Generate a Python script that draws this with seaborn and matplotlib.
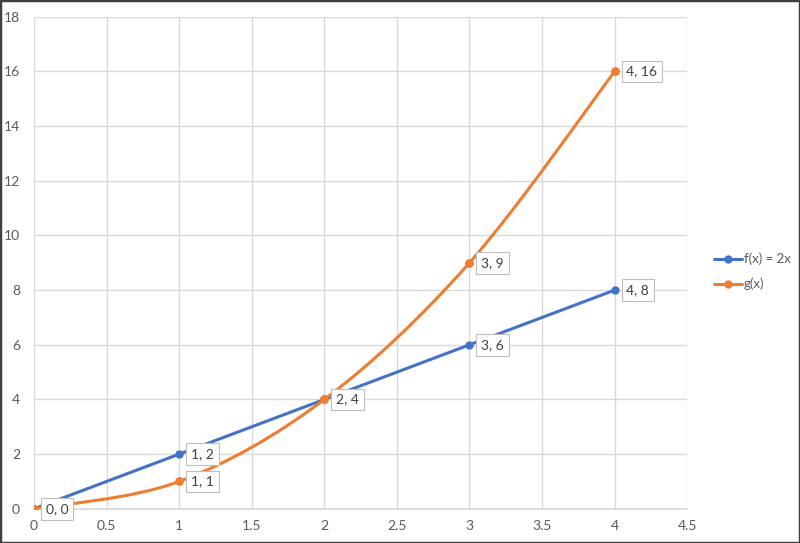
import matplotlib
matplotlib.use("Agg")
import matplotlib.pyplot as plt
from matplotlib.path import Path
from matplotlib.patches import PathPatch, Rectangle
from matplotlib.lines import Line2D
import numpy as np
import pandas as pd
import seaborn as sns

x_vals = [0, 1, 2, 3, 4]
f_vals = [0, 2, 4, 6, 8]
g_vals = [0, 1, 4, 9, 16]
series_names = ["f(x) = 2x", "g(x)"]
x_ticks = [0, 0.5, 1, 1.5, 2, 2.5, 3, 3.5, 4, 4.5]
x_tick_labels = ["0", "0.5", "1", "1.5", "2", "2.5", "3", "3.5", "4", "4.5"]
y_ticks = [0, 2, 4, 6, 8, 10, 12, 14, 16, 18]

BLUE = "#4472C4"
ORANGE = "#ED7D31"
TXT = "#595959"

sns.set_theme(style="white")
plt.rcParams["font.family"] = ["Lato", "DejaVu Sans"]

fig = plt.figure(figsize=(8.0, 5.43), dpi=100)
ax = fig.add_axes([0.0425, 0.063, 0.859 - 0.0425, 0.969 - 0.063])

df_f = pd.DataFrame({"x": x_vals, "y": f_vals})
df_g = pd.DataFrame({"x": x_vals, "y": g_vals})

sns.lineplot(data=df_f, x="x", y="y", ax=ax, color=BLUE, lw=2.2, marker="o",
             markersize=6, markeredgewidth=0, zorder=3)

# smooth bezier (Excel-like) for g
px = np.array(x_vals, float)
py = np.array(g_vals, float)
verts = [(px[0], py[0])]
codes = [Path.MOVETO]
n = len(px)
for i in range(n - 1):
    p0 = np.array([px[max(i - 1, 0)], py[max(i - 1, 0)]])
    p1 = np.array([px[i], py[i]])
    p2 = np.array([px[i + 1], py[i + 1]])
    p3 = np.array([px[min(i + 2, n - 1)], py[min(i + 2, n - 1)]])
    c1 = p1 + (p2 - p0) / 6.0
    c2 = p2 - (p3 - p1) / 6.0
    verts += [tuple(c1), tuple(c2), tuple(p2)]
    codes += [Path.CURVE4] * 3
ax.add_patch(PathPatch(Path(verts, codes), facecolor="none", edgecolor=ORANGE,
                       lw=2.2, zorder=4, transform=ax.transData))
sns.scatterplot(data=df_g, x="x", y="y", ax=ax, color=ORANGE, s=40,
                linewidth=0, zorder=5)

ax.set_xlim(0, 4.5)
ax.set_ylim(0, 18)
ax.set_xticks(x_ticks)
ax.set_xticklabels(x_tick_labels)
ax.set_yticks(y_ticks)
ax.grid(True, color="#D9D9D9", lw=1)
ax.set_axisbelow(True)
for s in ["top", "right", "left"]:
    ax.spines[s].set_visible(False)
ax.spines["bottom"].set_color("#D9D9D9")
ax.tick_params(axis="both", length=0, labelsize=10, labelcolor=TXT)
ax.tick_params(axis="x", pad=8)
ax.tick_params(axis="y", pad=10)
ax.set_xlabel("")
ax.set_ylabel("")

box = dict(boxstyle="square,pad=0.35", fc="white", ec="#BFBFBF", lw=0.8)
for xs, ys in [(x_vals, f_vals), (x_vals, g_vals)]:
    for xv, yv in zip(xs, ys):
        if xv == 2 and ys is f_vals:
            continue
        if xv == 0 and ys is f_vals:
            continue
        ax.annotate(f"{xv}, {yv}", (xv, yv), xytext=(8.5, 0),
                    textcoords="offset points", ha="left", va="center",
                    fontsize=10, color="#404040", bbox=box, zorder=6,
                    annotation_clip=False)

handles = [Line2D([], [], color=BLUE, lw=2.2, marker="o", markersize=6, markeredgewidth=0),
           Line2D([], [], color=ORANGE, lw=2.2, marker="o", markersize=6, markeredgewidth=0)]
fig.legend(handles, series_names, loc="center left", bbox_to_anchor=(0.893, 0.5),
           frameon=False, fontsize=9.5, labelcolor=TXT, handlelength=2.1,
           handletextpad=0.15, labelspacing=0.95, borderpad=0, borderaxespad=0)

fig.patches.append(Rectangle((0, 0), 1, 1, transform=fig.transFigure,
                             fill=False, ec="#404040", lw=2.5))

fig.savefig("out.png", dpi=100)
